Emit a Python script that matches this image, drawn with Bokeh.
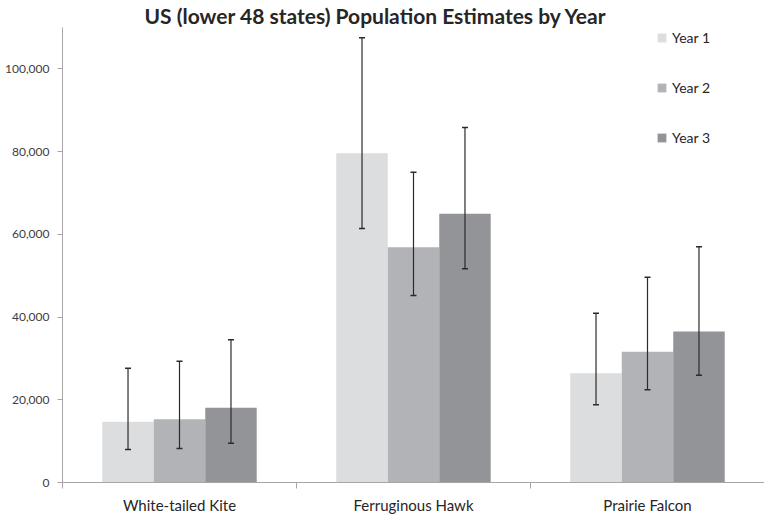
from bokeh.plotting import figure
from bokeh.models import (ColumnDataSource, Range1d, FixedTicker, NumeralTickFormatter,
                          Whisker, TeeHead, Legend, LegendItem)
from bokeh.transform import dodge
from bokeh.embed import file_html
from bokeh.resources import INLINE

categories = ["White-tailed Kite", "Ferruginous Hawk", "Prairie Falcon"]
series = ["Year 1", "Year 2", "Year 3"]
year1 = [14700, 79600, 26400]
year2 = [15300, 56900, 31600]
year3 = [18100, 65000, 36500]
low1 = [8000, 61400, 18800]
high1 = [27600, 107500, 40900]
low2 = [8200, 45200, 22400]
high2 = [29300, 75000, 49600]
low3 = [9500, 51700, 25900]
high3 = [34500, 85800, 57000]
y_ticks = [0, 20000, 40000, 60000, 80000, 100000]
title_text = "US (lower 48 states) Population Estimates by Year"

colors = ["#dcdddf", "#b2b3b6", "#939497"]
offsets = [-0.22, 0.0, 0.22]
bar_w = 0.22
FONT = "Lato"

xc = [i + 0.5 for i in range(len(categories))]

p = figure(width=764, height=517, output_backend="svg", toolbar_location=None,
           x_range=Range1d(0, len(categories)), y_range=Range1d(0, 110000),
           min_border_left=62, min_border_right=0, min_border_top=27, min_border_bottom=35)
p.outline_line_color = None
p.xgrid.grid_line_color = None
p.ygrid.grid_line_color = None

p.title.text = title_text
p.title.align = "left"
p.title.offset = 82
p.title.standoff = 0
p.title.text_font = FONT
p.title.text_font_style = "bold"
p.title.text_font_size = "21px"
p.title.text_color = "#262626"

renderers = []
for vals, lo, hi, col, off in zip([year1, year2, year3], [low1, low2, low3],
                                  [high1, high2, high3], colors, offsets):
    src = ColumnDataSource(dict(x=xc, top=vals, lo=lo, hi=hi,
                                xb=[v + off for v in xc]))
    r = p.vbar(x=dodge("x", off), top="top", width=bar_w, bottom=0, source=src,
               fill_color=col, line_color=None)
    renderers.append(r)
    w = Whisker(base="xb", upper="hi", lower="lo", source=src, level="overlay",
                line_color="#2b2b2b", line_width=1.2,
                upper_head=TeeHead(size=6, line_color="#2b2b2b", line_width=1.5),
                lower_head=TeeHead(size=6, line_color="#2b2b2b", line_width=1.5))
    p.add_layout(w)

axis_col = "#a6a6a6"
# y axis
p.yaxis.ticker = FixedTicker(ticks=y_ticks)
p.yaxis.formatter = NumeralTickFormatter(format="0,0")
p.yaxis.axis_line_color = axis_col
p.yaxis.major_tick_line_color = axis_col
p.yaxis.major_tick_out = 5
p.yaxis.major_tick_in = 0
p.yaxis.minor_tick_line_color = None
p.yaxis.major_label_text_font = FONT
p.yaxis.major_label_text_font_size = "12px"
p.yaxis.major_label_text_color = "#404040"
p.yaxis.major_label_standoff = 8

# x axis
p.xaxis.ticker = FixedTicker(ticks=xc, minor_ticks=[0, 1, 2, 3])
p.xaxis.major_label_overrides = {x: c for x, c in zip(xc, categories)}
p.xaxis.axis_line_color = axis_col
p.xaxis.major_tick_line_color = None
p.xaxis.major_tick_out = 0
p.xaxis.major_tick_in = 0
p.xaxis.minor_tick_line_color = axis_col
p.xaxis.minor_tick_out = 6
p.xaxis.minor_tick_in = 0
p.xaxis.major_label_text_font = FONT
p.xaxis.major_label_text_font_size = "15px"
p.xaxis.major_label_text_color = "#262626"
p.xaxis.major_label_standoff = 7

legend = Legend(items=[LegendItem(label=s, renderers=[r]) for s, r in zip(series, renderers)],
                location=(594, 336), orientation="vertical",
                glyph_width=11, glyph_height=11, label_height=17, spacing=33,
                padding=0, margin=0, border_line_color=None, background_fill_alpha=0,
                label_text_font=FONT, label_text_font_size="14px",
                label_text_color="#262626", label_standoff=5)
p.add_layout(legend)

open("out.html", "w").write(file_html(p, INLINE))
